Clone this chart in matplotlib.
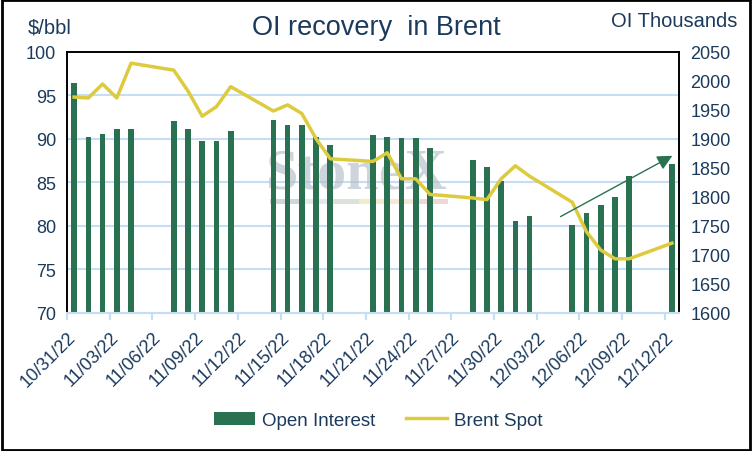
import datetime as dt
import matplotlib
matplotlib.use("Agg")
import matplotlib.pyplot as plt
import matplotlib.dates as mdates
from matplotlib.patches import Rectangle

plt.rcParams['font.family'] = ['Liberation Sans', 'DejaVu Sans']

# 데이터
dates = ["2022-10-31", "2022-11-01", "2022-11-02", "2022-11-03", "2022-11-04",
         "2022-11-07", "2022-11-08", "2022-11-09", "2022-11-10", "2022-11-11",
         "2022-11-14", "2022-11-15", "2022-11-16", "2022-11-17", "2022-11-18",
         "2022-11-21", "2022-11-22", "2022-11-23", "2022-11-24", "2022-11-25",
         "2022-11-28", "2022-11-29", "2022-11-30", "2022-12-01", "2022-12-02",
         "2022-12-05", "2022-12-06", "2022-12-07", "2022-12-08", "2022-12-09",
         "2022-12-12"]
open_interest = [1996, 1904, 1908, 1917, 1917,
                 1930, 1917, 1897, 1897, 1914,
                 1933, 1923, 1923, 1904, 1889,
                 1906, 1904, 1901, 1902, 1885,
                 1864, 1851, 1828, 1759, 1766,
                 1752, 1772, 1785, 1800, 1835,
                 1857]
brent_spot = [94.8, 94.7, 96.3, 94.7, 98.7,
              97.9, 95.5, 92.6, 93.7, 96.0,
              93.2, 93.9, 92.9, 90.0, 87.7,
              87.4, 88.4, 85.4, 85.4, 83.6,
              83.2, 83.0, 85.4, 86.9, 85.7,
              82.7, 79.3, 77.2, 76.2, 76.2,
              78.0]
tick_dates = ["10/31/22", "11/03/22", "11/06/22", "11/09/22", "11/12/22",
              "11/15/22", "11/18/22", "11/21/22", "11/24/22", "11/27/22",
              "11/30/22", "12/03/22", "12/06/22", "12/09/22", "12/12/22"]

navy = "#1B3A5C"
green = "#2A7152"
yellow = "#DDCB3F"
grid_blue = "#C6DEF3"

x = [mdates.date2num(dt.datetime.strptime(d, "%Y-%m-%d")) + 0.5 for d in dates]
ticks = [mdates.date2num(dt.datetime.strptime(t, "%m/%d/%y")) for t in tick_dates]

fig = plt.figure(figsize=(7.52, 4.52), dpi=100)
ax2 = fig.add_axes([0.0891, 0.306, 0.8139, 0.577])
ax = ax2.twinx()

# 막대 (오른쪽 축)
ax2.bar(x, open_interest, width=0.4, color=green, label="Open Interest", zorder=3)
ax2.set_ylim(1600, 2050)
ax2.set_yticks(range(1600, 2051, 50))
ax2.yaxis.tick_right()
ax2.yaxis.set_label_position("right")

# 브렌트 (왼쪽 축)
ax.plot(x, brent_spot, color=yellow, lw=2.5, label="Brent Spot", zorder=4)
ax.set_ylim(70, 100)
ax.set_yticks(range(70, 101, 5))
ax.yaxis.tick_left()

# 격자선
for v in range(75, 100, 5):
    ax2.axhline(1600 + (v - 70) * 15, color=grid_blue, lw=1.5, zorder=1)

ax2.set_xlim(ticks[0], ticks[-1] + 1)
ax2.set_xticks(ticks)
ax2.set_xticklabels(tick_dates, rotation=45, ha="right", rotation_mode="anchor")

for a in (ax, ax2):
    a.tick_params(axis="y", length=0, labelsize=13, labelcolor=navy, pad=8)
    for s in ("top", "left", "right"):
        a.spines[s].set_color("black")
        a.spines[s].set_linewidth(1.2)
    a.spines["bottom"].set_color(grid_blue)
    a.spines["bottom"].set_linewidth(1.5)
ax2.tick_params(axis="x", length=5, color=grid_blue, width=1.5,
                labelsize=13, labelcolor=navy, pad=6)

# 화살표
x0 = mdates.date2num(dt.datetime(2022, 10, 31))
ax.annotate("", xy=(x0 + 42.7, 88.2), xytext=(x0 + 34.5, 80.9),
            arrowprops=dict(arrowstyle="-|>,head_length=0.9,head_width=0.45",
                            color=green, lw=1.0), zorder=5)

# 워터마크 (막대 뒤)
ax2.text(0.474, 0.535, "StoneX", transform=ax2.transAxes, ha="center", va="center",
         fontsize=42, fontweight="bold", family="Liberation Serif",
         color="#B4BEC8", alpha=0.65, zorder=2)
wm_colors = ["#B9C1CC", "#D3DCE6", "#C7D3C6", "#EEE3B0", "#F0DCC0", "#E8C2C2"]
for i, c in enumerate(wm_colors):
    ax2.add_patch(Rectangle((0.332 + i * 0.0483, 0.415), 0.0483, 0.02,
                            transform=ax2.transAxes, color=c, alpha=0.65,
                            lw=0, zorder=2))

fig.text(0.5, 0.937, "OI recovery  in Brent", ha="center", va="center",
         fontsize=19.5, color=navy)
fig.text(0.037, 0.938, "$/bbl", ha="left", va="center", fontsize=14.5, color=navy)
fig.text(0.981, 0.953, "OI Thousands", ha="right", va="center", fontsize=14.5, color=navy)

h1, l1 = ax2.get_legend_handles_labels()
h2, l2 = ax.get_legend_handles_labels()
fig.legend(h1 + h2, l1 + l2, loc="center", bbox_to_anchor=(0.503, 0.068), ncol=2,
           frameon=False, fontsize=13.5, labelcolor=navy, handlelength=2.2,
           columnspacing=1.6, handletextpad=0.4)

# 외곽 테두리
fig.patches.append(Rectangle((0.002, 0.003), 0.996, 0.994, transform=fig.transFigure,
                             fill=False, ec="black", lw=2))

fig.savefig("out.png", dpi=100)
